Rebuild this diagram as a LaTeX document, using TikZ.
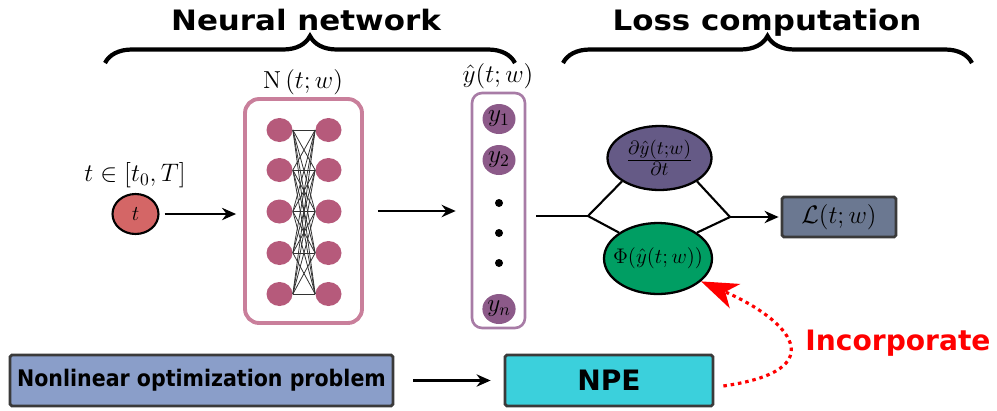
\documentclass[tikz,border=0pt]{standalone}
\usepackage{fontspec}
\usepackage{amsmath}
\usetikzlibrary{arrows.meta,positioning,shapes.geometric,decorations.pathreplacing}
\newfontfamily\headfont{DejaVu Sans}
\definecolor{nn-border}{HTML}{C97F9B}
\definecolor{nn-unit}{HTML}{B65A7B}
\definecolor{out-border}{HTML}{A87CA6}
\definecolor{out-unit}{HTML}{8C5A89}
\definecolor{in-unit}{HTML}{D46666}
\definecolor{deriv-fill}{HTML}{655A86}
\definecolor{phys-fill}{HTML}{009E63}
\definecolor{loss-fill}{HTML}{6B7891}
\definecolor{nlp-fill}{HTML}{8A9EC9}
\definecolor{npe-fill}{HTML}{3BD0DC}
\definecolor{box-edge}{HTML}{3A3A3A}

\begin{document}
\begin{tikzpicture}[x=0.02cm, y=-0.02cm, >={Stealth[length=8pt,width=7pt]},
    unit/.style={ellipse, fill=nn-unit, minimum width=0.52cm, minimum height=0.48cm, inner sep=0pt},
    outunit/.style={ellipse, fill=out-unit, minimum width=0.66cm, minimum height=0.6cm, inner sep=0pt, font=\fontsize{14}{16}\selectfont},
    dot/.style={circle, fill=black, minimum size=0.16cm, inner sep=0pt},
    flow/.style={->, line width=1.2pt},
    block/.style={draw=box-edge, line width=1.6pt, rounded corners=1pt, inner sep=0pt},
    blob/.style={ellipse, draw, line width=1.3pt, inner sep=0pt},
    heading/.style={font=\headfont\bfseries\fontsize{16}{18}\selectfont, anchor=base},
    mathlabel/.style={font=\fontsize{14}{16}\selectfont},
    incorp/.style={red, line width=1.8pt, dash pattern=on 2pt off 2.2pt, -{Stealth[length=21pt,width=15pt,inset=6pt]}}]

    \useasboundingbox (0,0) rectangle (997,410);

    \node[heading] (nnhead) at (306,30) {\scalebox{1.1}[1]{Neural network}};
    \node[heading] (losshead) at (767,30) {\scalebox{1.1}[1]{Loss computation}};
    \coordinate (nnbraceL) at (105,63);
    \coordinate (nnbraceR) at (515,63);
    \coordinate (lossbraceL) at (563,63);
    \coordinate (lossbraceR) at (972,63);
    \draw[decorate, decoration={brace, amplitude=0.54cm}, line width=2.4pt] (nnbraceL) -- (nnbraceR);
    \draw[decorate, decoration={brace, amplitude=0.54cm}, line width=2.4pt] (lossbraceL) -- (lossbraceR);

    \node[ellipse, draw, line width=1.2pt, fill=in-unit, minimum width=0.92cm, minimum height=0.8cm, inner sep=0pt, font=\fontsize{12}{14}\selectfont] (t) at (135.5,214) {$t$};
    \node[font=\fontsize{14.5}{16}\selectfont] (tlabel) at (135,175) {$t\in[t_0,T]$};

    \node[draw=nn-border, line width=2.2pt, rounded corners=0.28cm, minimum width=2.34cm, minimum height=4.48cm] (nn) at (303.5,211) {};
    \node[mathlabel] (nnlabel) at (303,82) {$\mathrm{N}\left(t;w\right)$};
    \foreach \i/\yy in {1/130,2/170,3/211.5,4/253,5/294} {
        \node[unit] (in\i) at (279.5,\yy) {};
        \node[unit] (hid\i) at (328.5,\yy) {};
    }
    \foreach \i in {1,...,5}
        \foreach \j in {1,...,5}
            \draw[line width=0.45pt, black!80] (in\i.east) -- (hid\j.west);

    \node[draw=out-border, line width=1.5pt, rounded corners=0.2cm, minimum width=1.06cm, minimum height=4.7cm] (out) at (498.5,210.5) {};
    \node[mathlabel] (outlabel) at (498,76) {$\hat{y}(t;w)$};
    \node[outunit] (y1) at (499,119) {$y_1$};
    \node[outunit] (y2) at (499,160) {$y_2$};
    \node[dot] (d1) at (499,203) {};
    \node[dot] (d2) at (499,233) {};
    \node[dot] (d3) at (499,263) {};
    \node[outunit] (yn) at (499,309) {$y_n$};

    \draw[flow, shorten <=0.1cm, shorten >=0.14cm] (t.east) -- (t.east -| nn.west);
    \draw[flow, shorten <=0.28cm, shorten >=0.3cm] (nn.east) -- (nn.east -| out.west);

    \node[blob, fill=deriv-fill, minimum width=2.08cm, minimum height=1.28cm,
        label={[font=\fontsize{15}{17}\selectfont]center:$\frac{\partial\hat{y}(t;w)}{\partial t}$}] (deriv) at (659.5,158) {};
    \node[blob, fill=phys-fill, minimum width=2.16cm, minimum height=1.42cm,
        label={[font=\fontsize{13}{15}\selectfont]center:$\Phi(\hat{y}(t;w))$}] (phys) at (658,258.5) {};
    \coordinate (lsplit) at (588,216);
    \coordinate (rsplit) at (730,217);
    \draw[line width=1.2pt, shorten <=0.2cm] (out.east |- lsplit) -- (lsplit);
    \draw[line width=1.2pt] (deriv.south west) -- (lsplit) -- (phys.north west);
    \draw[line width=1.2pt] (deriv.south east) -- (rsplit) -- (phys.north east);
    \node[block, fill=loss-fill, minimum width=2.28cm, minimum height=0.8cm, mathlabel] (loss) at (839,217) {$\mathcal{L}(t;w)$};
    \draw[flow, shorten >=0.04cm] (rsplit) -- (loss.west);

    \node[block, fill=nlp-fill, minimum width=7.66cm, minimum height=1.02cm, font=\headfont\bfseries\fontsize{13}{15}\selectfont] (nlp) at (201.5,380.5) {\scalebox{0.9}[1]{Nonlinear optimization problem}};
    \node[block, fill=npe-fill, minimum width=4.16cm, minimum height=1.02cm, font=\headfont\bfseries\fontsize{16}{18}\selectfont] (npe) at (609,380.5) {NPE};
    \draw[flow, shorten <=0.38cm, shorten >=0.26cm] (nlp.east) -- (npe.west);

    \draw[incorp] ([xshift=0.18cm, yshift=-0.11cm]npe.east) .. controls (835,370) and (790,320) .. (phys.-28);
    \node[heading, text=red] (inclabel) at (898,350) {Incorporate};
\end{tikzpicture}
\end{document}
